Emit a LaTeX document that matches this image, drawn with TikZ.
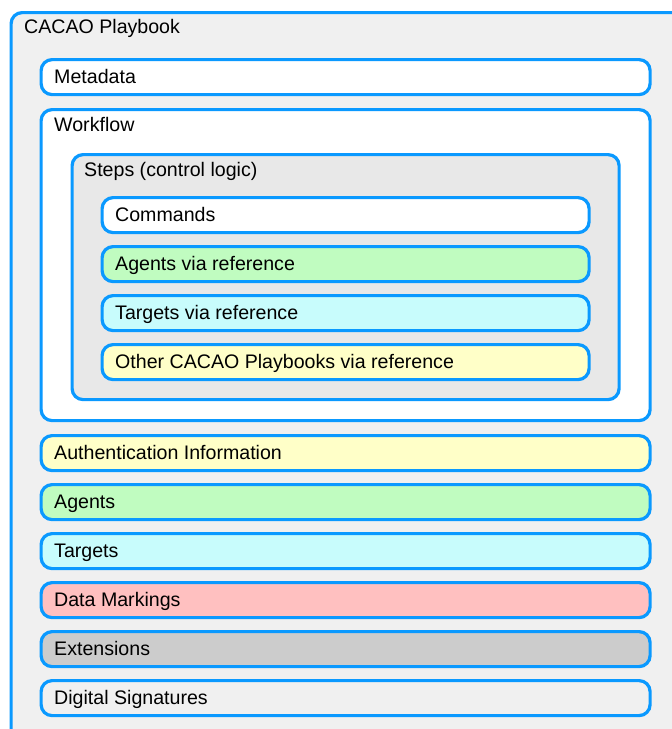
\documentclass[tikz,border=0pt]{standalone}
\usepackage{fontspec}
\setmainfont{Liberation Sans}
\definecolor{bblue}{HTML}{0A99FF}
\definecolor{bgout}{HTML}{F0F0F0}
\definecolor{bgsteps}{HTML}{E8E8E8}
\definecolor{cyel}{HTML}{FFFFC8}
\definecolor{cgrn}{HTML}{C0FCC0}
\definecolor{ccyan}{HTML}{C8FCFC}
\definecolor{cred}{HTML}{FFC0C0}
\definecolor{cgry}{HTML}{CCCCCC}
\begin{document}
\begin{tikzpicture}[x=1pt,y=-1pt,
  box/.style={draw=bblue, line width=3.2pt, rounded corners=11pt, anchor=north west, inner sep=0pt},
  bar/.style={box, minimum width=609pt, minimum height=35pt},
  ibar/.style={box, minimum width=487pt, minimum height=35pt},
  lbl/.style={anchor=base west, inner sep=0pt, font=\fontsize{19.6}{22}\selectfont}]
\useasboundingbox[fill=white] (0,0) rectangle (672,729);
% outer
\node[box, fill=bgout, minimum width=700pt, minimum height=740pt] (outer) at (9.5,11) {};
\node[lbl] (outerT) at ([xshift=14.5pt,yshift=-22pt]outer.north west) {CACAO Playbook};
% metadata
\node[bar, fill=white] (meta) at (39.5,58) {};
\node[lbl] (metaT) at ([xshift=14.5pt,yshift=-6pt]meta.west) {Metadata};
% workflow
\node[box, fill=white, minimum width=609pt, minimum height=311pt] (wf) at (39.5,108) {};
\node[lbl] (wfT) at ([xshift=14.5pt,yshift=-23pt]wf.north west) {Workflow};
% steps
\node[box, fill=bgsteps, minimum width=547pt, minimum height=245pt] (steps) at (70.5,153) {};
\node[lbl] (stepsT) at ([xshift=13.5pt,yshift=-23pt]steps.north west) {Steps (control logic)};
% inner
\node[ibar, fill=white] (cmd) at (100.5,196) {};
\node[lbl] (cmdT) at ([xshift=14.5pt,yshift=-6pt]cmd.west) {Commands};
\node[ibar, fill=cgrn] (agr) at (100.5,245) {};
\node[lbl] (agrT) at ([xshift=14.5pt,yshift=-6pt]agr.west) {Agents via reference};
\node[ibar, fill=ccyan] (tgr) at (100.5,294) {};
\node[lbl] (tgrT) at ([xshift=14.5pt,yshift=-6pt]tgr.west) {Targets via reference};
\node[ibar, fill=cyel] (opr) at (100.5,343) {};
\node[lbl] (oprT) at ([xshift=14.5pt,yshift=-6pt]opr.west) {Other CACAO Playbooks via reference};
% bottom bars
\node[bar, fill=cyel] (auth) at (39.5,434) {};
\node[lbl] (authT) at ([xshift=14.5pt,yshift=-6pt]auth.west) {Authentication Information};
\node[bar, fill=cgrn] (ag) at (39.5,483) {};
\node[lbl] (agT) at ([xshift=14.5pt,yshift=-6pt]ag.west) {Agents};
\node[bar, fill=ccyan] (tg) at (39.5,532) {};
\node[lbl] (tgT) at ([xshift=14.5pt,yshift=-6pt]tg.west) {Targets};
\node[bar, fill=cred] (dm) at (39.5,581) {};
\node[lbl] (dmT) at ([xshift=14.5pt,yshift=-6pt]dm.west) {Data Markings};
\node[bar, fill=cgry] (ext) at (39.5,630) {};
\node[lbl] (extT) at ([xshift=14.5pt,yshift=-6pt]ext.west) {Extensions};
\node[bar, fill=bgout] (ds) at (39.5,679) {};
\node[lbl] (dsT) at ([xshift=14.5pt,yshift=-6pt]ds.west) {Digital Signatures};
\end{tikzpicture}
\end{document}
